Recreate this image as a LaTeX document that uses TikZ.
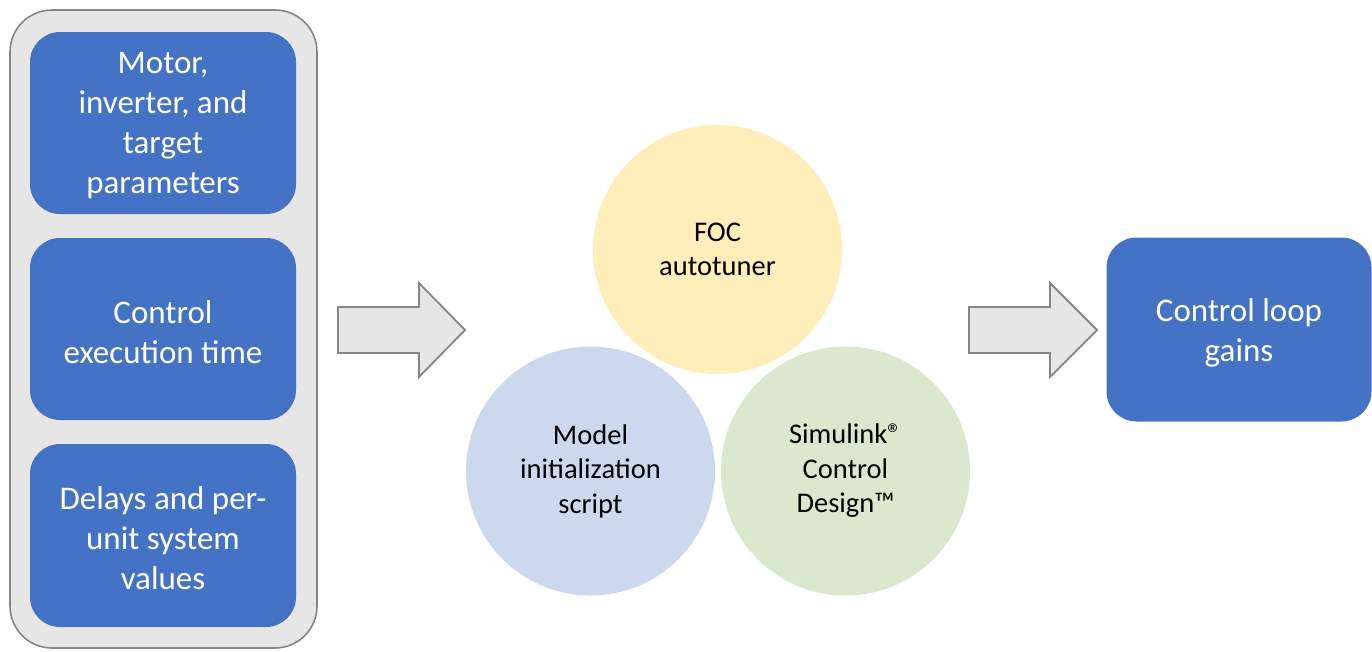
\documentclass[tikz,border=0pt]{standalone}
\usepackage{fontspec}
\setmainfont{Carlito}
\definecolor{boxblue}{HTML}{4472C4}
\definecolor{panelgray}{HTML}{E7E6E6}
\definecolor{edgegray}{HTML}{858585}
\definecolor{circyellow}{HTML}{FFEEBA}
\definecolor{circblue}{HTML}{CCD8EE}
\definecolor{circgreen}{HTML}{DAE8CD}
\begin{document}
\begin{tikzpicture}[x=1pt,y=-1pt,
  bluebox/.style={fill=boxblue, rounded corners=30pt, inner sep=0pt},
  boxtext/.style={text=white, inner sep=0pt, yshift=-3pt,
    font=\fontsize{33}{40}\selectfont, align=center},
  panel/.style={fill=panelgray, draw=edgegray, line width=1.6pt, rounded corners=42pt, inner sep=0pt},
  blockarrow/.style={fill=panelgray, draw=edgegray, line width=1.8pt, line join=miter},
  bubble/.style={circle, minimum size=249pt, inner sep=0pt, text=black,
    font=\fontsize{28.5}{34.5}\selectfont, align=center}
]
\useasboundingbox (0,0) rectangle (1372,651);
\node[panel, minimum width=307pt, minimum height=638pt] (panel) at (163.5,329) {};
\node[bluebox, minimum width=266pt, minimum height=182pt,
  label={[boxtext]center:{Motor,\\inverter, and\\target\\parameters}}] (motor) at (163,123) {};
\node[bluebox, minimum width=266pt, minimum height=182pt,
  label={[boxtext]center:{Control\\execution time}}] (exec) at (163,329) {};
\node[bluebox, minimum width=266pt, minimum height=183pt,
  label={[boxtext]center:{Delays and per-\\unit system\\values}}] (delay) at (163,535.5) {};
\draw[blockarrow] (338,307) -- (419,307) -- (419,283) -- (465,330) -- (419,377) -- (419,353) -- (338,353) -- cycle;
\node[bubble, fill=circyellow] (foc) at (717.5,249.5) {FOC\\autotuner};
\node[bubble, fill=circblue] (model) at (590.5,471) {Model\\initialization\\script};
\node[bubble, fill=circgreen] (simulink) at (845.5,471) {Simulink®\\Control\\Design™};
\draw[blockarrow] (969,307) -- (1050,307) -- (1050,283) -- (1097,330) -- (1050,377) -- (1050,353) -- (969,353) -- cycle;
\node[bluebox, minimum width=265pt, minimum height=184pt,
  label={[boxtext]center:{Control loop\\gains}}] (gains) at (1239,329.5) {};
\end{tikzpicture}
\end{document}
